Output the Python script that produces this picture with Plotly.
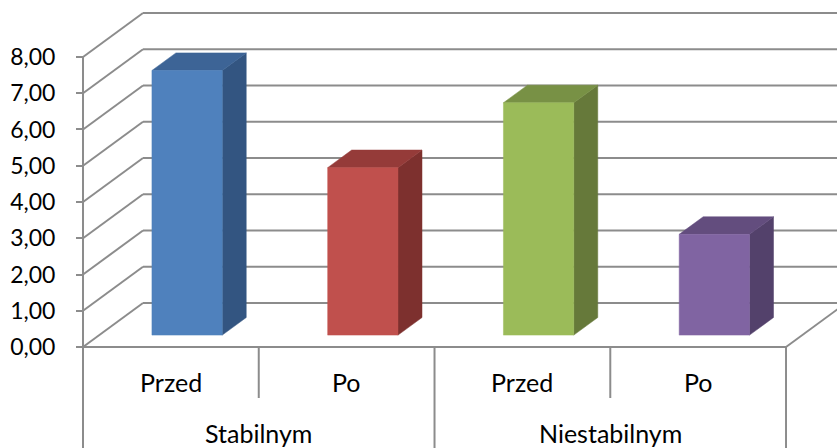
import plotly.graph_objects as go

# --- data -------------------------------------------------------------
groups = ["Stabilnym", "Niestabilnym"]
phases = ["Przed", "Po", "Przed", "Po"]
values = [7.30, 4.62, 6.41, 2.78]
y_ticks = [0, 1, 2, 3, 4, 5, 6, 7, 8]

face_colors = ["#4F81BD", "#C0504D", "#9BBB59", "#8064A2"]
top_colors = ["#3D6496", "#953B39", "#789145", "#634D7E"]
side_colors = ["#335581", "#7D302E", "#66793A", "#53416B"]

# --- oblique 3D projection --------------------------------------------
DX = 0.3414   # horizontal shift (in category units) from front to back wall
DY = 1.2138   # vertical shift (in value units) from front to back wall
D0, D1 = 0.27, 0.67   # depth span of the columns
BAR_W = 0.4
GRID = "#8C8C8C"
FONT = "Lato"


def proj(x, v, d):
    return x + d * DX, v + d * DY


fig = go.Figure()


def line(pts, color=GRID, width=2):
    xs, ys = zip(*[proj(*p) for p in pts])
    fig.add_trace(go.Scatter(x=list(xs), y=list(ys), mode="lines",
                             line=dict(color=color, width=width),
                             hoverinfo="skip", showlegend=False))


def face(pts, color):
    xs, ys = zip(*[proj(*p) for p in pts])
    fig.add_trace(go.Scatter(x=list(xs) + [xs[0]], y=list(ys) + [ys[0]],
                             mode="lines", fill="toself", fillcolor=color,
                             line=dict(color=color, width=0.5),
                             hoverinfo="skip", showlegend=False))


n = len(values)
top_val = y_ticks[-1]

# back wall gridlines and side-wall diagonals
for t in y_ticks:
    line([(0, t, 1), (n + 1, t, 1)])
    line([(0, t, 0), (0, t, 1)])

# floor edges and front value axis
line([(0, 0, 0), (n, 0, 0)])
line([(n, 0, 0), (n, 0, 1)])
line([(0, 0, 0), (0, top_val, 0)])

# category dividers below the floor
bottom = -2.786
for k in range(n + 1):
    if k % 2 == 0:
        line([(k, 0, 0), (k, bottom - 1, 0)])
    else:
        line([(k, 0, 0), (k, -1.407, 0)])

# columns
for i, v in enumerate(values):
    x0, x1 = i + 0.5 - BAR_W / 2, i + 0.5 + BAR_W / 2
    face([(x1, 0, D0), (x1, v, D0), (x1, v, D1), (x1, 0, D1)], side_colors[i])
    face([(x0, v, D0), (x1, v, D0), (x1, v, D1), (x0, v, D1)], top_colors[i])
    face([(x0, 0, D0), (x1, 0, D0), (x1, v, D0), (x0, v, D0)], face_colors[i])

# category labels
for i, p in enumerate(phases):
    fig.add_annotation(x=i + 0.5, y=-0.966, text=p, showarrow=False,
                       font=dict(family=FONT, size=25, color="#000000"),
                       xanchor="center", yanchor="middle")
for g, name in enumerate(groups):
    fig.add_annotation(x=2 * g + 1, y=-2.372, text=name, showarrow=False,
                       font=dict(family=FONT, size=25, color="#000000"),
                       xanchor="center", yanchor="middle")

fig.update_layout(
    width=837, height=448,
    margin=dict(l=0, r=0, t=0, b=0),
    paper_bgcolor="white", plot_bgcolor="white",
    separators=",.",
    showlegend=False,
    xaxis=dict(range=[-0.4723, 4.290], visible=False, fixedrange=True),
    yaxis=dict(range=[bottom, 9.572], anchor="free", position=83 / 837,
               tickvals=y_ticks, tickformat=".2f",
               ticks="outside", ticklen=7, tickwidth=2, tickcolor=GRID,
               ticklabelstandoff=16,
               showgrid=False, zeroline=False, showline=False,
               tickfont=dict(family=FONT, size=23, color="#000000"),
               fixedrange=True),
)

fig.write_html("out.html")
